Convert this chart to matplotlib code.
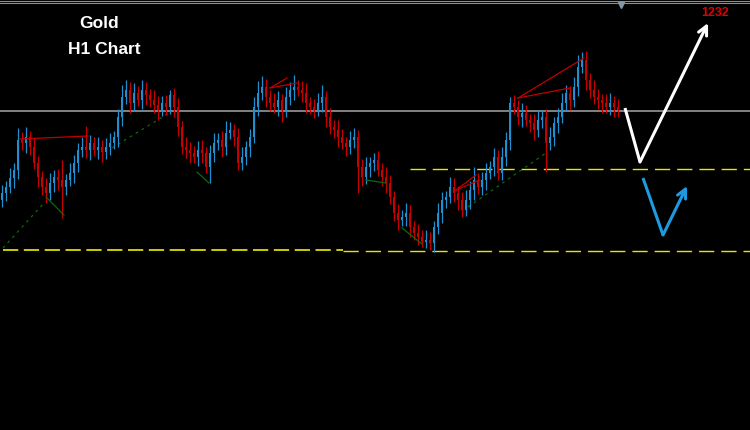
import matplotlib
matplotlib.use("Agg")
import matplotlib.pyplot as plt
import numpy as np

plt.rcParams['lines.scale_dashes'] = False

# ---- data (hourly gold candles, price units) ----
first_open = 1214.2
closes = [
    1214.9, 1215.5, 1216.4, 1217.2, 1220.2, 1219.9, 1220.5, 1219.5, 1217.9, 1216.5,
    1215.5, 1214.9, 1215.9, 1216.5, 1216.2, 1215.5, 1216.2, 1216.9, 1217.9, 1219.2,
    1219.5, 1219.2, 1219.9, 1219.2, 1219.5, 1219.0, 1219.5, 1219.9, 1220.5, 1222.5,
    1224.5, 1225.2, 1223.9, 1224.9, 1224.2, 1225.2, 1224.7, 1224.2, 1223.7, 1223.2,
    1223.9, 1223.5, 1224.7, 1223.5, 1221.5, 1219.5, 1219.2, 1218.9, 1218.5, 1219.2,
    1218.9, 1217.5, 1218.9, 1219.9, 1220.2, 1219.5, 1220.9, 1221.2, 1220.5, 1217.9,
    1218.5, 1219.5, 1220.5, 1223.5, 1224.9, 1225.5, 1224.5, 1223.9, 1223.5, 1224.2,
    1223.2, 1224.5, 1225.2, 1225.5, 1225.2, 1224.9, 1223.9, 1223.5, 1223.2, 1223.9,
    1224.5, 1222.5, 1221.5, 1221.2, 1220.5, 1219.9, 1219.5, 1220.2, 1220.5, 1217.5,
    1216.5, 1217.5, 1217.9, 1218.2, 1217.2, 1216.5, 1215.9, 1214.5, 1212.9, 1212.2,
    1212.5, 1212.9, 1211.5, 1210.9, 1210.5, 1210.0, 1210.2, 1209.9, 1211.5, 1212.9,
    1214.2, 1214.5, 1215.5, 1214.9, 1214.2, 1213.2, 1214.2, 1215.2, 1216.2, 1215.5,
    1216.2, 1216.9, 1217.5, 1218.5, 1216.9, 1218.5, 1220.2, 1223.9, 1223.5, 1222.5,
    1222.9, 1222.2, 1221.9, 1221.2, 1222.2, 1222.5, 1219.9, 1220.5, 1221.9, 1222.5,
    1223.9, 1224.9, 1224.2, 1225.5, 1227.5, 1228.2, 1226.2, 1225.2, 1224.5, 1224.2,
    1223.9, 1223.5, 1223.9, 1223.5, 1223.2,
]
upper_wick = [
    0.8, 0.6, 1.0, 0.7, 1.2, 0.8, 1.0, 0.6, 0.9, 0.7,
    0.6, 0.9, 1.0, 0.7, 0.8, 2.0, 0.6, 1.0, 0.8, 0.7,
    1.0, 2.1, 0.8, 0.6, 1.0, 0.7, 0.9, 1.0, 0.6, 0.8,
    1.2, 1.0, 0.8, 1.0, 0.7, 1.0, 0.8, 0.6, 1.0, 0.9,
    0.7, 0.8, 0.5, 0.7, 0.9, 0.6, 1.0, 0.8, 0.7, 0.9,
    1.0, 0.6, 0.8, 1.0, 0.7, 0.9, 1.2, 0.8, 0.6, 0.9,
    1.0, 0.6, 0.8, 1.0, 1.2, 1.1, 0.8, 0.7, 1.0, 0.9,
    0.6, 1.0, 0.8, 1.2, 0.7, 0.9, 1.0, 0.6, 0.8, 1.0,
    1.2, 0.6, 0.9, 0.7, 1.0, 0.8, 0.6, 0.9, 0.9, 0.7,
    0.8, 1.0, 0.6, 0.7, 0.9, 0.7, 1.0, 0.8, 0.6, 0.9,
    0.7, 1.0, 0.8, 0.6, 0.9, 0.7, 1.0, 0.8, 0.6, 1.0,
    0.8, 0.6, 1.0, 0.9, 0.7, 0.8, 1.0, 0.9, 1.3, 0.7,
    0.8, 1.0, 0.6, 0.9, 0.7, 1.0, 0.8, 0.6, 0.8, 0.7,
    1.0, 0.8, 0.6, 0.9, 1.0, 0.7, 0.8, 1.0, 0.6, 0.9,
    1.0, 0.8, 0.7, 1.0, 1.2, 0.8, 0.9, 0.7, 1.0, 0.8,
    0.6, 0.9, 1.0, 0.7, 0.8,
]
lower_wick = [
    0.7, 0.8, 0.6, 1.0, 0.9, 0.7, 1.0, 0.8, 0.6, 1.0,
    0.8, 1.0, 0.7, 0.9, 1.0, 3.1, 0.8, 0.6, 1.0, 0.9,
    0.7, 0.8, 1.0, 0.6, 0.9, 1.0, 0.7, 0.8, 0.6, 1.0,
    0.9, 0.7, 1.0, 0.8, 0.6, 0.9, 1.0, 0.7, 0.8, 1.0,
    0.6, 0.8, 0.7, 1.0, 0.9, 0.7, 0.8, 1.0, 0.6, 0.9,
    1.0, 0.6, 1.6, 0.9, 0.7, 1.0, 0.8, 0.6, 0.9, 0.7,
    0.7, 0.8, 1.0, 0.6, 0.9, 0.7, 1.0, 0.8, 0.6, 0.9,
    1.2, 0.7, 0.8, 1.0, 0.6, 0.9, 1.0, 0.7, 0.8, 0.6,
    0.9, 1.0, 0.7, 0.8, 1.0, 0.6, 0.9, 0.7, 0.8, 2.6,
    0.9, 0.7, 1.0, 0.8, 0.6, 0.9, 1.0, 0.7, 0.8, 1.0,
    0.6, 0.9, 1.0, 0.7, 0.8, 0.5, 0.6, 0.7, 0.9, 0.7,
    1.0, 0.8, 0.6, 0.9, 1.0, 0.7, 0.6, 0.9, 1.0, 0.7,
    0.8, 1.0, 0.6, 0.9, 0.7, 0.7, 0.9, 1.0, 0.7, 0.8,
    1.0, 0.6, 0.9, 1.0, 0.7, 0.8, 2.9, 0.7, 0.9, 1.0,
    0.6, 0.8, 1.0, 0.7, 0.9, 0.6, 1.0, 0.8, 0.7, 0.9,
    1.0, 0.6, 0.8, 1.0, 0.7,
]

# analysis drawings (bar index, price)
red_lines = [
    [(4.5, 1220.3), (21.5, 1220.6)],
    [(67.0, 1225.4), (71.25, 1226.4)],
    [(67.0, 1225.4), (73.75, 1225.9)],
    [(113.5, 1215.2), (118.5, 1216.7)],
    [(113.5, 1215.2), (119.5, 1216.2)],
    [(129.0, 1224.4), (142.0, 1225.4)],
    [(129.0, 1224.4), (145.5, 1228.4)],
]
green_dashed = [
    [(0.25, 1209.4), (10.5, 1213.9)],
    [(27.5, 1219.4), (41.75, 1222.9)],
    [(116.5, 1213.5), (136.0, 1218.9)],
]
green_solid = [
    [(11.0, 1214.5), (15.5, 1212.7)],
    [(48.75, 1217.0), (51.75, 1215.9)],
    [(91.0, 1216.2), (96.0, 1215.9)],
    [(100.0, 1211.4), (105.0, 1209.8)],
]
support_level = 1209.2
support_level_right = 1209.1
mid_level = 1217.3
resistance_level = 1223.15
white_path = [(155.75, 1223.4), (159.5, 1218.0), (176.5, 1231.9)]
blue_path = [(160.25, 1216.4), (165.25, 1210.7), (171.25, 1215.6)]
target_label = "1232"

# ---- figure ----
fig = plt.figure(figsize=(7.5, 4.3), dpi=100, facecolor='black')
ax = fig.add_axes([0, 0, 1, 1])
ax.set_facecolor('black')
ax.set_xlim(-0.5, 187.0)
ax.set_ylim(1191.2, 1234.2)
ax.axis('off')

n = len(closes)
opens = [first_open] + closes[:-1]
x = np.arange(n)
up_col = '#1e8fd0'
dn_col = '#c80000'
for i in range(n):
    o, c = opens[i], closes[i]
    col = up_col if c >= o else dn_col
    top, bot = max(o, c), min(o, c)
    ax.vlines(x[i], bot - lower_wick[i], top + upper_wick[i], color=col, lw=0.9, zorder=3)
    ax.bar(x[i], max(top - bot, 0.15), bottom=bot, width=0.6, color=col,
           linewidth=0, zorder=3)

# levels
ax.plot([0.25, 85.25], [support_level] * 2, color='#cccc00', lw=1.4, dashes=(11, 4), zorder=2)
ax.plot([85.25, 187], [support_level_right] * 2, color='#e6e600', lw=1.0, dashes=(11, 5), zorder=2)
ax.plot([102, 187], [mid_level] * 2, color='#e6e600', lw=1.0, dashes=(11, 5), zorder=2)
ax.axhline(resistance_level, color='#8c8c8c', lw=1.3, zorder=2)
ax.axhline(1234.2 - 0.05, color='#8c8c8c', lw=0.8, zorder=2)
ax.axhline(1234.2 - 0.25, color='#8c8c8c', lw=0.8, zorder=2)
ax.plot([154.75], [1233.7], marker='v', color='#8098a8', markersize=5, zorder=4)

for seg in red_lines:
    (x0, y0), (x1, y1) = seg
    ax.plot([x0, x1], [y0, y1], color='#c00000', lw=0.9, zorder=4)
for seg in green_dashed:
    (x0, y0), (x1, y1) = seg
    ax.plot([x0, x1], [y0, y1], color='#0a6a0a', lw=0.9, dashes=(2, 3), zorder=2)
for seg in green_solid:
    (x0, y0), (x1, y1) = seg
    ax.plot([x0, x1], [y0, y1], color='#0a6a0a', lw=0.9, zorder=4)

# forecast arrows
for path, col in ((white_path, 'white'), (blue_path, '#1e9be0')):
    ax.plot([path[0][0], path[1][0]], [path[0][1], path[1][1]], color=col, lw=2.2,
            solid_capstyle='butt', zorder=5)
    ax.annotate('', xy=path[2], xytext=path[1],
                arrowprops=dict(arrowstyle='->', color=col, lw=2.2,
                                mutation_scale=16, shrinkA=0, shrinkB=0), zorder=5)

ax.text(715 / 750, 1 - 12.5 / 430, target_label, transform=ax.transAxes, color='#e00000',
        fontsize=9, fontweight='bold', family='Liberation Sans', ha='center', va='center')
ax.text(99 / 750, 1 - 23 / 430, 'Gold', transform=ax.transAxes, color='white',
        fontsize=12.5, fontweight='bold', family='Liberation Sans', ha='center', va='center')
ax.text(104 / 750, 1 - 49 / 430, 'H1 Chart', transform=ax.transAxes, color='white',
        fontsize=12.5, fontweight='bold', family='Liberation Sans', ha='center', va='center')

fig.savefig('out.png', dpi=100, facecolor='black')
